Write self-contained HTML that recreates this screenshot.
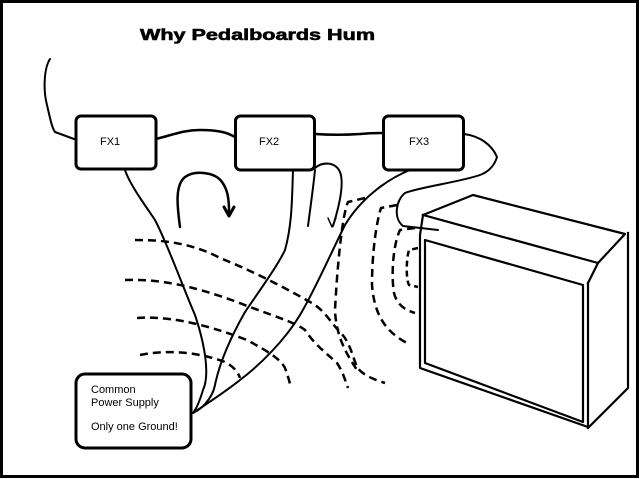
<!DOCTYPE html>
<html>
<head>
<meta charset="utf-8">
<style>
html,body{margin:0;padding:0;background:#fff;}
svg{display:block;}
</style>
</head>
<body>
<svg width="640" height="479" viewBox="0 0 640 479" xmlns="http://www.w3.org/2000/svg">
<rect x="0" y="0" width="640" height="479" fill="#fff"/>
<!-- frame -->
<rect x="1.5" y="1.5" width="636" height="475" fill="none" stroke="#000" stroke-width="3"/>

<!-- title -->
<text x="140" y="40" font-family="Liberation Sans, Arial, sans-serif" font-weight="bold" font-size="16" textLength="235" lengthAdjust="spacingAndGlyphs" fill="#000" stroke="#000" stroke-width="0.6">Why Pedalboards Hum</text>

<g fill="none" stroke="#000" stroke-linecap="round" stroke-linejoin="round">
  <!-- boxes -->
  <rect x="76" y="116" width="80" height="53" rx="5" stroke-width="3"/>
  <rect x="235.5" y="116" width="79" height="54" rx="5" stroke-width="3"/>
  <rect x="383.5" y="116" width="80" height="54" rx="5" stroke-width="3"/>
  <rect x="76" y="374" width="115" height="74" rx="9" stroke-width="3"/>

  <!-- signal cables -->
  <path d="M50,59 C44,68 43,90 47,105 C50,118 52,128 55,132 L74,139" stroke-width="2"/>
  <path d="M156,139 C175,134 185,130 200,130 C220,130 228,133 235,137" stroke-width="2.5"/>
  <path d="M315,134 C330,135 345,135 360,134 C370,133 377,133 383,133" stroke-width="2.5"/>
  <path d="M464,134 C480,136 492,145 497,157 C494,167 488,172 480,175 C460,182 420,187 405,193 C396,200 393,218 403,226 L438,230" stroke-width="2"/>

  <!-- power cables -->
  <path d="M125,170 C130,185 145,205 155,220 C168,245 182,285 195,315 C205,345 210,375 203,390 C200,400 197,408 193,413" stroke-width="2"/>
  <path d="M293,170 C292,200 292,225 285,250 C278,265 260,290 245,312 C232,335 220,360 215,385 C212,400 200,410 193,413" stroke-width="2"/>
  <path d="M410,170 C385,180 360,200 345,225 C330,255 315,290 300,315 C285,340 260,365 240,380 C225,392 205,405 193,413" stroke-width="2"/>
  <path d="M315,170 C313,190 310,210 308,226" stroke-width="2"/>

  <!-- arrows -->
  <path d="M180,227 C177,205 175,185 185,177 C195,170 215,172 222,182 C228,190 229,200 229,212" stroke-width="2.5"/>
  <path d="M224,207 L229,216 L234,207" stroke-width="3"/>
  <path d="M315,168 C322,162 335,161 340,172 C345,185 338,210 333,226" stroke-width="2"/>
  <path d="M328,218 L332,227 L336,218" stroke-width="1.5"/>

  <!-- field lines (dashed) -->
  <g stroke-width="2.5" stroke-dasharray="8 5" stroke-linecap="butt">
    <path d="M135,240 C160,240 190,242 220,258 C250,270 280,285 310,302 C325,310 330,322 340,332 C350,342 352,355 357,367 C362,375 375,380 385,383"/>
    <path d="M125,280 C160,279 190,285 237,302 C270,315 295,322 305,330 C315,345 325,352 337,363 C343,372 345,380 348,388"/>
    <path d="M137,318 C165,316 200,322 247,340 C265,350 280,358 285,368 C288,376 289,380 290,384"/>
    <path d="M140,355 C165,350 195,351 225,362 C233,366 238,372 240,378"/>
    <path d="M365,198 L348,202 C342,215 337,270 335,310 C336,335 345,352 357,370"/>
    <path d="M397,205 L381,208 C377,220 372,250 372,285 C374,310 382,330 407,343"/>
    <path d="M415,228 L400,230 C393,245 391,275 394,293 C397,305 405,310 415,313"/>
    <path d="M418,248 L409,250 C406,260 406,280 409,285 L418,287" stroke-dasharray="6 4"/>
  </g>

  <!-- amp cabinet -->
  <g stroke-width="2.2" stroke-linecap="square">
    <path d="M423,215 L473,195 L625,234 L598,263 L423,215"/>
    <path d="M598,263 L588,283"/>
    <path d="M423,215 L420,235 L420,368 L588,427 L588,283"/>
    <path d="M425,240 L583,285 L583,422 L425,363 Z"/>
    <path d="M628,233 L628,388 L588,428"/>
  </g>
</g>

<!-- labels -->
<g font-family="Liberation Sans, Arial, sans-serif" font-size="11" fill="#000">
  <text x="100" y="145">FX1</text>
  <text x="259" y="145">FX2</text>
  <text x="409" y="145">FX3</text>
  <text x="91" y="393">Common</text>
  <text x="91" y="406">Power Supply</text>
  <text x="91" y="430">Only one Ground!</text>
</g>
</svg>
</body>
</html>
